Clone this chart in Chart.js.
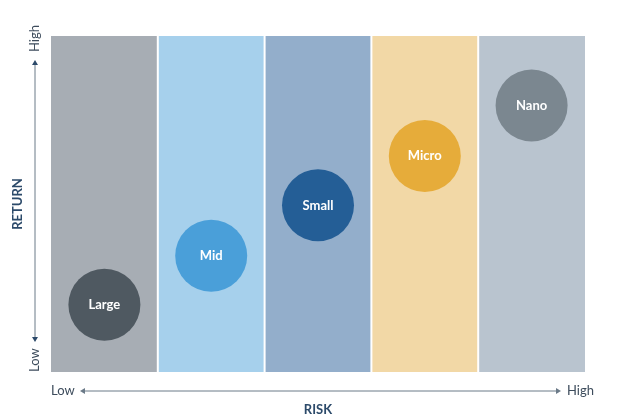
<!DOCTYPE html>
<html>
<head>
<meta charset="utf-8">
<script src="https://cdn.jsdelivr.net/npm/chart.js@4"></script>
<style>
  html, body { margin: 0; padding: 0; background: #fff; }
  #wrap { width: 621px; height: 420px; }
</style>
</head>
<body>
<div id="wrap"><canvas id="chart"></canvas></div>
<script>
const categories = ['Large', 'Mid', 'Small', 'Micro', 'Nano'];
const riskValues = [0.5, 1.5, 2.5, 3.5, 4.5];
const returnValues = [20, 34.6, 49.6, 64.3, 79.3];
const bubbleRadius = [36, 36, 36, 36, 36];
const bubbleColors = ['#4f5961', '#4a9fd9', '#245e96', '#e6ac3a', '#7b8790'];
const bandColors = ['#a7adb4', '#a6d0ec', '#93aecb', '#f2d8a6', '#b9c4cf'];

const bandsPlugin = {
    id: 'bands',
    beforeDatasetsDraw(chart) {
        const { ctx, chartArea: a, scales: { x } } = chart;
        ctx.save();
        bandColors.forEach((c, i) => {
            const x0 = x.getPixelForValue(i), x1 = x.getPixelForValue(i + 1);
            ctx.fillStyle = c;
            ctx.fillRect(x0, a.top, x1 - x0, a.bottom - a.top);
        });
        ctx.strokeStyle = '#fff';
        ctx.lineWidth = 2;
        for (let i = 1; i < bandColors.length; i++) {
            const px = x.getPixelForValue(i);
            ctx.beginPath(); ctx.moveTo(px, a.top); ctx.lineTo(px, a.bottom); ctx.stroke();
        }
        ctx.restore();
    },
    afterDatasetsDraw(chart) {
        const { ctx } = chart;
        const meta = chart.getDatasetMeta(0);
        ctx.save();
        ctx.fillStyle = '#fff';
        ctx.font = 'bold 13px Lato';
        ctx.textAlign = 'center';
        ctx.textBaseline = 'middle';
        meta.data.forEach((el, i) => ctx.fillText(categories[i], el.x, el.y));
        ctx.restore();
    },
    afterDraw(chart) {
        const { ctx, chartArea: a } = chart;
        const col = '#6b7a88';
        ctx.save();
        ctx.strokeStyle = col; ctx.fillStyle = col; ctx.lineWidth = 1;
        // horizontal axis
        const hy = 391;
        ctx.beginPath(); ctx.moveTo(84, hy); ctx.lineTo(557, hy); ctx.stroke();
        arrow(ctx, 84, hy, -1, 0); arrow(ctx, 557, hy, 1, 0);
        ctx.font = '13px Lato';
        ctx.fillStyle = '#3d4c5c';
        ctx.textBaseline = 'middle';
        ctx.textAlign = 'left'; ctx.fillText('Low', 51, hy);
        ctx.textAlign = 'right'; ctx.fillText('High', 594, hy);
        ctx.font = 'bold 13px Lato';
        ctx.fillStyle = '#2c4a6a';
        ctx.textAlign = 'center'; ctx.fillText('RISK', (a.left + a.right) / 2, 410);
        // vertical axis
        const vx = 35;
        ctx.beginPath(); ctx.moveTo(vx, 64); ctx.lineTo(vx, 338); ctx.stroke();
        arrow(ctx, vx, 64, 0, -1); arrow(ctx, vx, 338, 0, 1);
        ctx.translate(vx, 0);
        ctx.rotate(-Math.PI / 2);
        ctx.font = '13px Lato';
        ctx.fillStyle = '#3d4c5c';
        ctx.textAlign = 'right'; ctx.fillText('High', -25, 0);
        ctx.textAlign = 'left'; ctx.fillText('Low', -372, 0);
        ctx.restore();
        ctx.save();
        ctx.translate(18, (a.top + a.bottom) / 2);
        ctx.rotate(-Math.PI / 2);
        ctx.font = 'bold 13px Lato';
        ctx.fillStyle = '#2c4a6a';
        ctx.textAlign = 'center'; ctx.textBaseline = 'middle';
        ctx.fillText('RETURN', 0, 0);
        ctx.restore();
    }
};

function arrow(ctx, x, y, dx, dy) {
    ctx.beginPath();
    if (dx) { ctx.moveTo(x + dx * 4, y); ctx.lineTo(x - dx * 1, y - 3); ctx.lineTo(x - dx * 1, y + 3); }
    else { ctx.moveTo(x, y + dy * 4); ctx.lineTo(x - 3, y - dy * 1); ctx.lineTo(x + 3, y - dy * 1); }
    ctx.closePath(); ctx.fill();
}

new Chart(document.getElementById('chart'), {
    type: 'bubble',
    data: {
        datasets: [{
            data: riskValues.map((x, i) => ({ x, y: returnValues[i], r: bubbleRadius[i] })),
            backgroundColor: bubbleColors,
            borderWidth: 0
        }]
    },
    options: {
        responsive: true,
        maintainAspectRatio: false,
        animation: false,
        layout: { padding: { left: 51, right: 15, top: 15, bottom: 48 } },
        plugins: { legend: { display: false }, tooltip: { enabled: false } },
        scales: {
            x: { display: false, min: 0, max: 5 },
            y: { display: false, min: 0, max: 100 }
        }
    },
    plugins: [bandsPlugin]
});
</script>
</body>
</html>
